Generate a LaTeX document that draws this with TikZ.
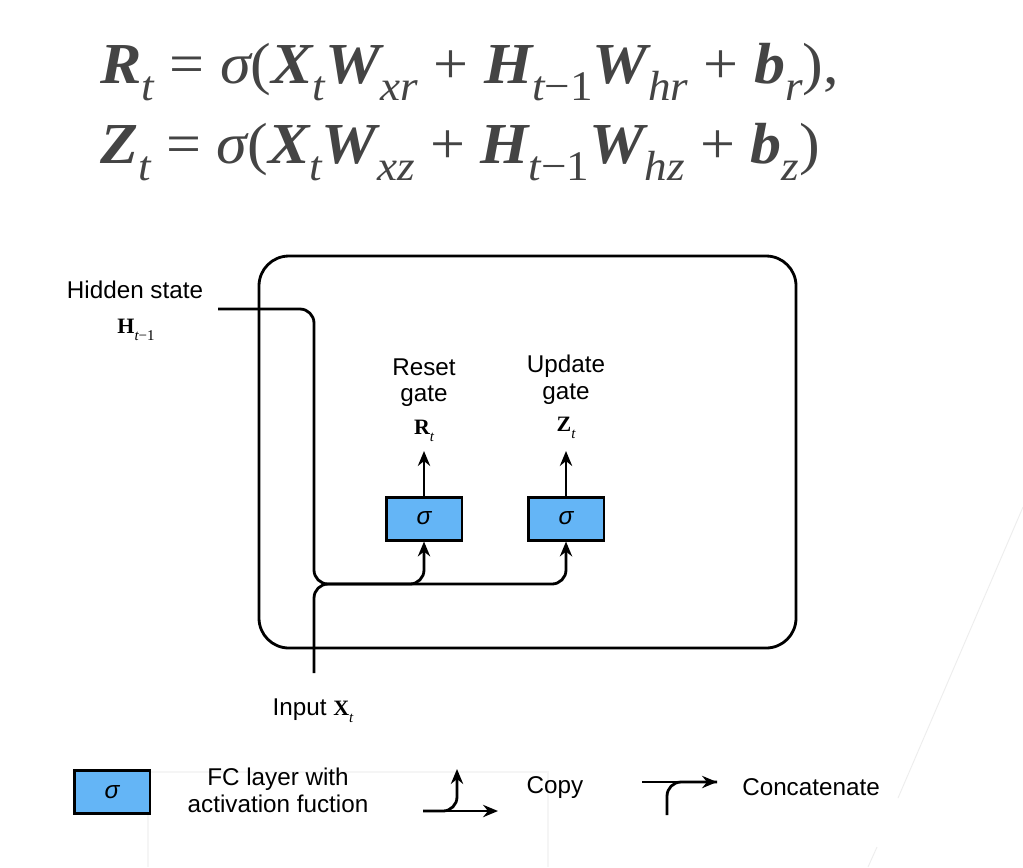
\documentclass[tikz,border=0pt]{standalone}
\usepackage{fontspec}
\setmainfont{Liberation Sans}
\newfontfamily\eqfont{Liberation Serif}
\usetikzlibrary{positioning,arrows.meta}
\definecolor{gateblue}{RGB}{100,181,246}
\definecolor{eqgray}{RGB}{68,68,68}
% bold serif symbol with small italic index (diagram labels)
\newcommand{\bsym}[1]{{\eqfont\fontsize{12.5}{14}\selectfont\bfseries #1}}
\newcommand{\dsub}[1]{\raisebox{-0.6ex}{\eqfont\itshape\fontsize{8.5}{8}\selectfont #1}}
% symbols of the two equations
\newcommand{\ev}[1]{{\bfseries\itshape #1}}
\newcommand{\esub}[1]{\raisebox{-0.3em}{\mdseries\itshape\fontsize{24}{24}\selectfont #1}}

\begin{document}
\begin{tikzpicture}[x=0.02cm,y=-0.02cm,
  eq/.style={font=\eqfont\fontsize{33}{38}\selectfont,text=eqgray,anchor=base west,inner sep=0},
  lbl/.style={font=\fontsize{13.8}{16}\selectfont,anchor=base,inner sep=0},
  sigbox/.style={draw,line width=1.7pt,fill=gateblue,minimum width=1.52cm,minimum height=0.86cm,
    inner sep=0,font=\fontsize{14}{14}\selectfont\itshape},
  wire/.style={line width=1.6pt,rounded corners=8pt},
  arr/.style={-{Stealth[length=8.5pt,width=7pt,inset=2.8pt]}}]
\useasboundingbox (0,0) rectangle (1023,867);
\fill[white] (0,0) rectangle (1023,867);

%---------------------faint screen traces------------------%
\draw[black!7,line width=0.5pt] (1023,507) -- (898,798);
\draw[black!7,line width=0.5pt] (877,847) -- (868,867);
\draw[black!4,line width=1pt] (148,867) |- (548,772) -- (548,867);

%---------------------Equations------------------%
\node[eq] (eqr) at (100,83) {\scalebox{1.07}[1]{\ev{R}\esub{t} = {\itshape σ}(\ev{X}\esub{t}\ev{W}\esub{xr} + \ev{H}\esub{t\upshape−1}\ev{W}\esub{hr} + \ev{b}\esub{r}),}};
\node[eq] (eqz) at (100,163) {\scalebox{1.07}[1]{\ev{Z}\esub{t} = {\itshape σ}(\ev{X}\esub{t}\ev{W}\esub{xz} + \ev{H}\esub{t\upshape−1}\ev{W}\esub{hz} + \ev{b}\esub{z})}};

%---------------------Cell------------------%
\draw[line width=1.6pt,rounded corners=17pt] (259,256) rectangle (796,648);

\node[sigbox] (rbox) at (424,518.5) {σ};
\node[sigbox] (zbox) at (566,518.5) {σ};

\node[lbl] (reset) at (424,375) {Reset};
\node[lbl] (rgate) at (424,401) {gate};
\node[lbl] (rsym) at (424,434) {\bsym{R}\dsub{t}};
\node[lbl] (update) at (566,372) {Update};
\node[lbl] (zgate) at (566,399) {gate};
\node[lbl] (zsym) at (566,431) {\bsym{Z}\dsub{t}};

\node[lbl] (hidden) at (135,298) {Hidden state};
\node[lbl] (hsym) at (136,333) {\bsym{H}\dsub{t\upshape−1}};
\node[lbl] (input) at (313,715) {Input \bsym{X}\dsub{t}};

\coordinate (hin) at (218,309);
\coordinate (hcorner) at (314,309);
\coordinate (join) at (314,584);
\coordinate (xin) at (314,673);
\coordinate (rout) at (424,451);
\coordinate (zout) at (566,451);

\draw[wire,arr] (hin) -- (hcorner) -- (join) -- (rbox.south |- join) -- (rbox.south);
\draw[wire,arr] (xin) -- (join) -- (zbox.south |- join) -- (zbox.south);
\draw[wire,arr] (rbox.north) -- (rout);
\draw[wire,arr] (zbox.north) -- (zout);

%---------------------Legend------------------%
\node[sigbox] (legbox) at (112,792) {σ};
\node[lbl] (fcone) at (278,785) {FC layer with};
\node[lbl] (fctwo) at (278,812) {activation fuction};

\coordinate (cpa) at (423,811);
\coordinate (cpb) at (498,811);
\coordinate (cpc) at (457,769);
\draw[wire,arr] (cpa) -- (cpb);
\draw[wire,arr] (cpa) -| (cpc);
\node[lbl] (copy) at (555,793) {Copy};

\coordinate (cca) at (642,782);
\coordinate (ccb) at (717,782);
\coordinate (ccc) at (667,815);
\draw[wire,arr] (cca) -- (ccb);
\draw[wire] (ccc) |- (ccb);
\node[lbl] (concat) at (811,795) {Concatenate};
\end{tikzpicture}
\end{document}
